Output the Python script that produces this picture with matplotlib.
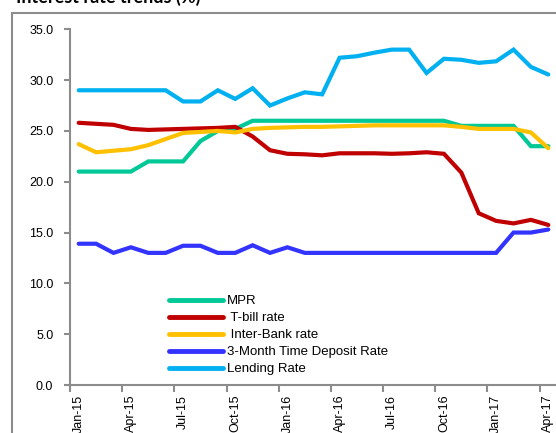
import matplotlib
matplotlib.use("Agg")
import matplotlib.pyplot as plt
from matplotlib.patches import Rectangle

months = ["Jan-15","Feb-15","Mar-15","Apr-15","May-15","Jun-15","Jul-15","Aug-15","Sep-15","Oct-15","Nov-15","Dec-15",
          "Jan-16","Feb-16","Mar-16","Apr-16","May-16","Jun-16","Jul-16","Aug-16","Sep-16","Oct-16","Nov-16","Dec-16",
          "Jan-17","Feb-17","Mar-17","Apr-17"]

mpr = [21.0,21.0,21.0,21.0,22.0,22.0,22.0,24.0,25.0,25.2,26.0,26.0,26.0,26.0,26.0,26.0,26.0,26.0,26.0,26.0,26.0,26.0,
       25.5,25.5,25.5,25.5,23.5,23.5]
tbill = [25.8,25.7,25.6,25.2,25.1,25.15,25.2,25.25,25.3,25.4,24.45,23.1,22.75,22.7,22.6,22.8,22.8,22.8,22.75,22.8,22.9,22.75,
         20.9,16.9,16.15,15.9,16.25,15.75]
interbank = [23.7,22.9,23.05,23.2,23.6,24.2,24.8,24.9,25.0,24.85,25.2,25.3,25.35,25.4,25.4,25.45,25.5,25.55,25.55,25.55,25.55,25.55,
             25.4,25.2,25.2,25.2,24.85,23.3]
deposit3m = [13.9,13.9,13.0,13.55,13.0,13.0,13.7,13.7,13.0,13.0,13.75,13.0,13.55,13.0,13.0,13.0,13.0,13.0,13.0,13.0,13.0,13.0,
             13.0,13.0,13.0,15.0,15.0,15.3]
lending = [29.0,29.0,29.0,29.0,29.0,29.0,27.9,27.9,29.0,28.15,29.2,27.5,28.2,28.8,28.6,32.2,32.35,32.7,33.0,33.0,30.7,32.1,
           32.0,31.7,31.85,33.0,31.3,30.55]

series = [
    ("MPR", mpr, "#00C896"),
    (" T-bill rate", tbill, "#C00000"),
    (" Inter-Bank rate", interbank, "#FFC000"),
    ("3-Month Time Deposit Rate", deposit3m, "#3333FF"),
    ("Lending Rate", lending, "#00B0F0"),
]

W, H = 556, 433
fig = plt.figure(figsize=(W/100, H/100), dpi=100)
fig.patch.set_facecolor("white")

# outer frame
fig.add_artist(Rectangle((12/W, -0.1), (W-12+20)/W, (H-13)/H + 0.1, transform=fig.transFigure,
                         fill=False, edgecolor="#8C8C8C", linewidth=1.5))
fig.text(16/W, 1 - 3/H, "Interest rate trends (%)", fontsize=13, fontweight="bold",
         family=["Lato", "DejaVu Sans"], ha="left", va="baseline", color="black")

ax = fig.add_axes([70/W, (H-385)/H, (557-70)/W, (385-29.3)/H])
x = list(range(len(months)))
for name, vals, col in series:
    ax.plot(x, vals, color=col, linewidth=3, label=name, solid_capstyle="round", solid_joinstyle="miter")

ax.set_xlim(-0.5, len(months) - 0.5)
ax.set_ylim(0, 35)
yt = [0, 5, 10, 15, 20, 25, 30, 35]
ax.set_yticks(yt)
ax.set_yticklabels([f"{v:.1f}" for v in yt], family=["Liberation Sans"], fontsize=9)
ax.set_xticks([i - 0.5 for i in range(0, len(months), 3)])
ax.set_xticklabels([])
ax.set_xticks(list(range(0, len(months), 3)), minor=True)
ax.set_xticklabels([months[i] for i in range(0, len(months), 3)], minor=True, rotation=90,
                   family=["Liberation Sans"], fontsize=9, va="top", ha="center")
ax.tick_params(axis="x", which="minor", length=0, pad=7)
ax.tick_params(axis="x", which="major", length=5, width=1.5, color="#8C8C8C", direction="out")
ax.tick_params(axis="y", length=4, width=1.5, color="#8C8C8C", direction="out", pad=8)
for s in ["top", "right"]:
    ax.spines[s].set_visible(False)
for s in ["left", "bottom"]:
    ax.spines[s].set_color("#8C8C8C")
    ax.spines[s].set_linewidth(1.5)

leg = ax.legend(loc="upper left", bbox_to_anchor=(169/W, (H-295)/H), bbox_transform=fig.transFigure,
                frameon=False, prop={"family": "Liberation Sans", "size": 9.5},
                handlelength=4.1, handletextpad=0.3, labelspacing=0.36, borderpad=0, borderaxespad=0)
for lh in leg.get_lines():
    lh.set_linewidth(3.5)
    lh.set_solid_capstyle("round")

fig.savefig("out.png", dpi=100)
